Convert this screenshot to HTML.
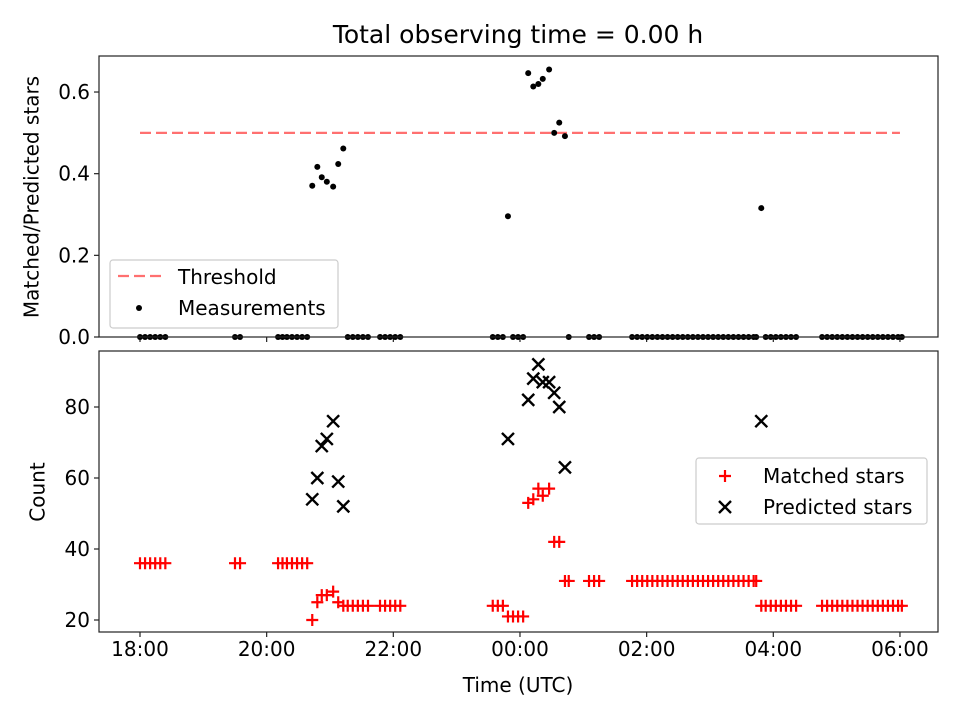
<!DOCTYPE html>
<html><head><meta charset="utf-8"><style>
body{margin:0;background:#fff}
svg{font-family:"DejaVu Sans","Liberation Sans",sans-serif}
</style></head><body>
<svg id="chart" width="960" height="720" viewBox="0 0 960 720">
<rect width="960" height="720" fill="#fff"/>
<text x="518" y="43" font-size="25" text-anchor="middle">Total observing time = 0.00 h</text>
<g id="topPanel"></g>
<g id="botPanel"></g>
</svg>
<script>
const times=[0,0.08,0.16,0.24,0.32,0.40,1.50,1.58,2.18,2.25,2.32,2.40,2.48,2.56,2.64,
2.72,2.80,2.87,2.95,3.05,3.13,3.21,3.28,3.36,3.44,3.52,3.60,3.79,3.87,3.95,4.03,4.11,
5.57,5.65,5.73,5.81,5.89,5.97,6.05,6.13,6.21,6.29,6.36,6.46,6.54,6.62,6.71,6.77,7.09,7.17,7.25,
7.77,7.85,7.93,8.01,8.09,8.17,8.25,8.33,8.41,8.49,8.57,8.65,8.73,8.81,8.89,8.97,9.05,9.13,9.21,9.29,9.37,9.45,9.53,9.61,9.69,9.73,
9.81,9.88,9.96,10.04,10.12,10.20,10.28,10.36,
10.77,10.85,10.93,11.01,11.09,11.17,11.25,11.33,11.41,11.49,11.57,11.65,11.73,11.81,11.89,11.97,12.03];
const matched=[36,36,36,36,36,36,36,36,36,36,36,36,36,36,36,
20,25,27,27,28,25,24,24,24,24,24,24,24,24,24,24,24,
24,24,24,21,21,21,21,53,54,57,55,57,42,42,31,31,31,31,31,
31,31,31,31,31,31,31,31,31,31,31,31,31,31,31,31,31,31,31,31,31,31,31,31,31,31,
24,24,24,24,24,24,24,24,
24,24,24,24,24,24,24,24,24,24,24,24,24,24,24,24,24];
const predicted=[null,null,null,null,null,null,null,null,null,null,null,null,null,null,null,
54,60,69,71,76,59,52,null,null,null,null,null,null,null,null,null,null,
null,null,null,71,null,null,null,82,88,92,87,87,84,80,63,null,null,null,null,
null,null,null,null,null,null,null,null,null,null,null,null,null,null,null,null,null,null,null,null,null,null,null,null,null,null,
76,null,null,null,null,null,null,null,
null,null,null,null,null,null,null,null,null,null,null,null,null,null,null,null,null];
const xTickLabels=["18:00","20:00","22:00","00:00","02:00","04:00","06:00"];
const xTickHours=[0,2,4,6,8,10,12];
const topTicks=[0,0.2,0.4,0.6];
const botTicks=[20,40,60,80];
const threshold=0.5;

const NS="http://www.w3.org/2000/svg";
function mk(p,t,a){const e=document.createElementNS(NS,t);for(const k in a)e.setAttribute(k,a[k]);p.appendChild(e);return e;}
const L=99,R=938,FS=20;
const X=h=>140+h*63.33;
const Yt=v=>337-v*408.3;
const Yb=v=>620-(v-20)*3.55;
const topG=document.getElementById('topPanel'),botG=document.getElementById('botPanel');

function axes(g,y0,y1,ticks,Y,fmt,labels){
  for(let i=0;i<xTickHours.length;i++){
    const x=X(xTickHours[i]);
    const t=mk(g,'line',{x1:x,x2:x,y1:y1,y2:y1+5,stroke:'#222','stroke-width':1.2});
    
    
    if(labels){const tx=mk(g,'text',{x:x,y:y1+24,'font-size':FS,'text-anchor':'middle'});tx.textContent=xTickLabels[i];
      
      }
  }
  ticks.forEach(v=>{
    const y=Y(v);
    const t=mk(g,'line',{x1:L-5,x2:L,y1:y,y2:y,stroke:'#222','stroke-width':1.2});
    
    
    const tx=mk(g,'text',{x:L-9,y:y+7,'font-size':FS,'text-anchor':'end'});tx.textContent=fmt(v);
    
    
  });
}
function frame(g,y0,y1){const r=mk(g,'rect',{x:L,y:y0,width:R-L,height:y1-y0,fill:'none',stroke:'#222','stroke-width':1.2});
  
  }

// Top panel
axes(topG,56,337,topTicks,Yt,v=>v.toFixed(1),false);
const th=mk(topG,'line',{x1:X(0),x2:X(12),y1:Yt(threshold),y2:Yt(threshold),stroke:'#ff7070','stroke-width':2.2,'stroke-dasharray':'11,5'});


times.forEach((h,i)=>{
  const r=predicted[i]?matched[i]/predicted[i]:0;
  const c=mk(topG,'circle',{cx:X(h),cy:Yt(r),r:3,fill:'#000'});
  
  
});
frame(topG,56,337);
const ylt=mk(topG,'text',{x:33,y:197,'font-size':FS,'text-anchor':'middle',transform:'rotate(-90 33 197)','dominant-baseline':'middle'});ylt.textContent='Matched/Predicted stars';


const lg1=mk(topG,'g',{});


mk(lg1,'rect',{x:110,y:260,width:228,height:68,rx:3,fill:'#fff','fill-opacity':0.8,stroke:'#ccc','stroke-width':1.2});
mk(lg1,'line',{x1:118,x2:161,y1:276,y2:276,stroke:'#ff7070','stroke-width':2.2,'stroke-dasharray':'11,5'});
mk(lg1,'circle',{cx:139,cy:308,r:3,fill:'#000'});
const a1=mk(lg1,'text',{x:178,y:284,'font-size':FS});a1.textContent='Threshold';
const a2=mk(lg1,'text',{x:178,y:315,'font-size':FS});a2.textContent='Measurements';

// Bottom panel
axes(botG,351,632,botTicks,Yb,v=>String(v),true);
times.forEach((h,i)=>{
  const x=X(h),y=Yb(matched[i]);
  const p=mk(botG,'path',{d:`M${x-6},${y}H${x+6}M${x},${y-6}V${y+6}`,stroke:'#f00','stroke-width':2.2,fill:'none'});
  
  
  if(predicted[i]){
    const yy=Yb(predicted[i]);
    const q=mk(botG,'path',{d:`M${x-6},${yy-6}L${x+6},${yy+6}M${x-6},${yy+6}L${x+6},${yy-6}`,stroke:'#000','stroke-width':2.4,fill:'none'});
    
    
  }
});
frame(botG,351,632);
const ylb=mk(botG,'text',{x:39,y:492,'font-size':FS,'text-anchor':'middle',transform:'rotate(-90 39 492)','dominant-baseline':'middle'});ylb.textContent='Count';


const xl=mk(botG,'text',{x:518,y:692,'font-size':FS,'text-anchor':'middle'});xl.textContent='Time (UTC)';


const lg2=mk(botG,'g',{});


mk(lg2,'rect',{x:696,y:458,width:231,height:66,rx:3,fill:'#fff','fill-opacity':0.8,stroke:'#ccc','stroke-width':1.2});
mk(lg2,'path',{d:'M719,476H731M725,470V482',stroke:'#f00','stroke-width':2.2});
mk(lg2,'path',{d:'M719,501L731,513M719,513L731,501',stroke:'#000','stroke-width':2.4});
const b1=mk(lg2,'text',{x:763,y:483,'font-size':FS});b1.textContent='Matched stars';
const b2=mk(lg2,'text',{x:763,y:514,'font-size':FS});b2.textContent='Predicted stars';
</script>
</body></html>
